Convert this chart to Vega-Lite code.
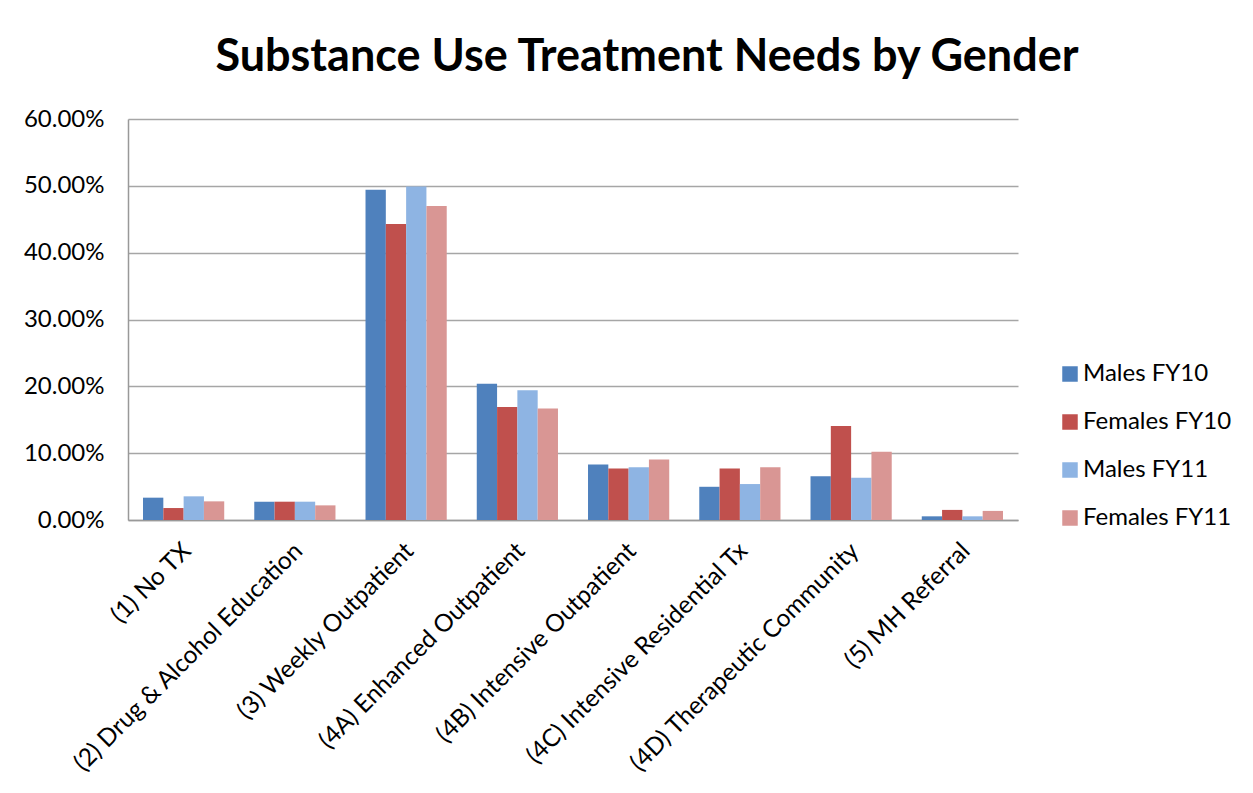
{
  "$schema": "https://vega.github.io/schema/vega-lite/v6.json",
  "autosize": "none",
  "width": 890,
  "height": 401,
  "padding": {"left": 128, "top": 119, "right": 235, "bottom": 273},
  "background": "white",
  "title": {
    "text": "Substance Use Treatment Needs by Gender",
    "fontSize": 45,
    "fontWeight": "bold",
    "font": "Lato",
    "color": "#000000",
    "anchor": "middle",
    "dx": 74,
    "offset": 27
  },
  "data": {
    "values": [
      {"need": "(1) No TX", "group": "Males FY10", "share": 0.0334},
      {"need": "(1) No TX", "group": "Females FY10", "share": 0.0179},
      {"need": "(1) No TX", "group": "Males FY11", "share": 0.0354},
      {"need": "(1) No TX", "group": "Females FY11", "share": 0.0279},
      {"need": "(2) Drug & Alcohol Education", "group": "Males FY10", "share": 0.0274},
      {"need": "(2) Drug & Alcohol Education", "group": "Females FY10", "share": 0.0274},
      {"need": "(2) Drug & Alcohol Education", "group": "Males FY11", "share": 0.0274},
      {"need": "(2) Drug & Alcohol Education", "group": "Females FY11", "share": 0.0219},
      {"need": "(3) Weekly Outpatient", "group": "Males FY10", "share": 0.494},
      {"need": "(3) Weekly Outpatient", "group": "Females FY10", "share": 0.443},
      {"need": "(3) Weekly Outpatient", "group": "Males FY11", "share": 0.499},
      {"need": "(3) Weekly Outpatient", "group": "Females FY11", "share": 0.470},
      {"need": "(4A) Enhanced Outpatient", "group": "Males FY10", "share": 0.204},
      {"need": "(4A) Enhanced Outpatient", "group": "Females FY10", "share": 0.169},
      {"need": "(4A) Enhanced Outpatient", "group": "Males FY11", "share": 0.194},
      {"need": "(4A) Enhanced Outpatient", "group": "Females FY11", "share": 0.167},
      {"need": "(4B) Intensive Outpatient", "group": "Males FY10", "share": 0.0829},
      {"need": "(4B) Intensive Outpatient", "group": "Females FY10", "share": 0.0769},
      {"need": "(4B) Intensive Outpatient", "group": "Males FY11", "share": 0.0789},
      {"need": "(4B) Intensive Outpatient", "group": "Females FY11", "share": 0.0905},
      {"need": "(4C) Intensive Residential Tx", "group": "Males FY10", "share": 0.0497},
      {"need": "(4C) Intensive Residential Tx", "group": "Females FY10", "share": 0.0769},
      {"need": "(4C) Intensive Residential Tx", "group": "Males FY11", "share": 0.0538},
      {"need": "(4C) Intensive Residential Tx", "group": "Females FY11", "share": 0.0789},
      {"need": "(4D) Therapeutic Community", "group": "Males FY10", "share": 0.0653},
      {"need": "(4D) Therapeutic Community", "group": "Females FY10", "share": 0.1407},
      {"need": "(4D) Therapeutic Community", "group": "Males FY11", "share": 0.0633},
      {"need": "(4D) Therapeutic Community", "group": "Females FY11", "share": 0.102},
      {"need": "(5) MH Referral", "group": "Males FY10", "share": 0.0055},
      {"need": "(5) MH Referral", "group": "Females FY10", "share": 0.0151},
      {"need": "(5) MH Referral", "group": "Males FY11", "share": 0.0055},
      {"need": "(5) MH Referral", "group": "Females FY11", "share": 0.0136}
    ]
  },
  "mark": {"type": "bar"},
  "encoding": {
    "x": {
      "field": "need",
      "type": "nominal",
      "sort": null,
      "title": null,
      "scale": {"paddingInner": 0.27, "paddingOuter": 0.135},
      "axis": {
        "labelAngle": -45,
        "labelAlign": "right",
        "labelBaseline": "middle",
        "labelFontSize": 24.5,
        "labelFont": "Lato",
        "labelColor": "#000000",
        "labelPadding": 27,
        "labelOffset": 4,
        "labelLimit": 500,
        "ticks": false,
        "domainColor": "#999999",
        "domainWidth": 1.5
      }
    },
    "xOffset": {
      "field": "group",
      "type": "nominal",
      "sort": ["Males FY10", "Females FY10", "Males FY11", "Females FY11"]
    },
    "y": {
      "field": "share",
      "type": "quantitative",
      "title": null,
      "scale": {"domain": [0, 0.6], "nice": false},
      "axis": {
        "format": ".2%",
        "values": [0, 0.1, 0.2, 0.3, 0.4, 0.5, 0.6],
        "labelFontSize": 24,
        "labelFont": "Lato",
        "labelColor": "#000000",
        "labelPadding": 24,
        "ticks": false,
        "grid": true,
        "gridColor": "#a6a6a6",
        "gridWidth": 1.5,
        "domainColor": "#999999",
        "domainWidth": 1.5
      }
    },
    "color": {
      "field": "group",
      "type": "nominal",
      "sort": ["Males FY10", "Females FY10", "Males FY11", "Females FY11"],
      "scale": {
        "domain": ["Males FY10", "Females FY10", "Males FY11", "Females FY11"],
        "range": ["#4F81BD", "#C0504D", "#8EB4E3", "#D99694"]
      },
      "legend": {
        "title": null,
        "orient": "none",
        "legendX": 930,
        "legendY": 243,
        "symbolType": "square",
        "symbolSize": 240,
        "symbolStrokeWidth": 0,
        "labelFontSize": 24,
        "labelFont": "Lato",
        "labelColor": "#000000",
        "labelOffset": 1,
        "rowPadding": 24
      }
    }
  },
  "config": {
    "view": {"stroke": null}
  }
}
